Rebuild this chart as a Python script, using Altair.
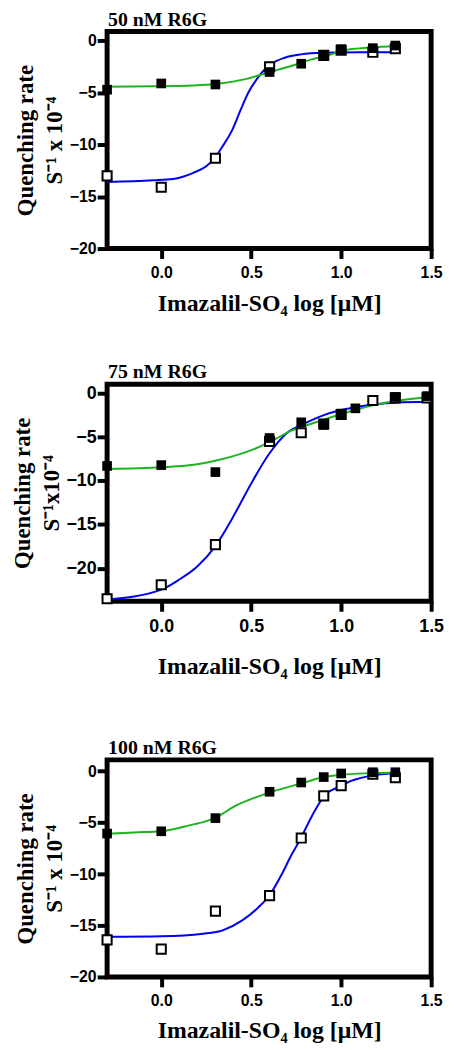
import altair as alt
import pandas as pd

# ---------------- data ----------------
# log10 concentration of Imazalil-SO4 (uM)
p1_x_filled = [-0.301, 0.0, 0.301, 0.602, 0.778, 0.903, 1.0, 1.176, 1.301]
p1_y_filled = [-4.7, -4.1, -4.2, -3.0, -2.2, -1.4, -0.8, -0.7, -0.45]
p1_x_open = [-0.301, 0.0, 0.301, 0.602, 0.903, 1.0, 1.176, 1.301]
p1_y_open = [-13.0, -14.1, -11.3, -2.5, -1.4, -0.9, -1.1, -0.75]
p1_x_green = [-0.301, -0.044, 0.177, 0.303, 0.467, 0.595, 0.725, 0.835, 0.945, 1.0, 1.176, 1.301]
p1_y_green = [-4.41, -4.38, -4.3, -4.16, -3.68, -3.05, -2.4, -1.78, -1.3, -0.95, -0.62, -0.51]
p1_x_blue = [-0.301, -0.044, 0.066, 0.175, 0.248, 0.297, 0.339, 0.394, 0.44, 0.485, 0.531,
             0.576, 0.613, 0.686, 0.777, 0.9, 1.1, 1.301]
p1_y_blue = [-13.6, -13.43, -13.3, -12.73, -12.1, -11.3, -10.2, -8.6, -6.7, -4.95, -3.68,
             -2.73, -2.19, -1.62, -1.3, -1.15, -1.1, -1.1]

p2_x_filled = [-0.301, 0.0, 0.301, 0.602, 0.778, 0.903, 1.0, 1.079, 1.301, 1.477]
p2_y_filled = [-8.3, -8.2, -9.0, -5.1, -3.3, -3.6, -2.3, -1.7, -0.4, -0.3]
p2_x_open = [-0.301, 0.0, 0.301, 0.602, 0.778, 0.903, 1.0, 1.176, 1.301, 1.477]
p2_y_open = [-23.5, -21.9, -17.3, -5.5, -4.5, -3.5, -2.4, -0.8, -0.5, -0.5]
p2_x_green = [-0.301, 0.0, 0.2, 0.3, 0.466, 0.6, 0.72, 0.865, 1.0, 1.1, 1.2, 1.3, 1.5]
p2_y_green = [-8.64, -8.45, -8.1, -7.7, -6.75, -5.6, -4.28, -3.26, -2.35, -1.75, -1.25, -0.85, -0.4]
p2_x_blue = [-0.301, 0.0, 0.1, 0.2, 0.3, 0.4, 0.5, 0.6, 0.7, 0.8, 0.9, 1.0, 1.1, 1.2, 1.3, 1.5]
p2_y_blue = [-23.6, -22.46, -21.3, -19.8, -17.5, -14.1, -10.3, -6.9, -4.5, -3.4, -2.5, -1.9, -1.5, -1.2, -1.05, -0.95]

p3_x_filled = [-0.301, 0.0, 0.301, 0.602, 0.778, 0.903, 1.0, 1.176, 1.301]
p3_y_filled = [-6.06, -5.84, -4.56, -2.0, -1.1, -0.57, -0.22, -0.1, -0.1]
p3_x_open = [-0.301, 0.0, 0.301, 0.602, 0.778, 0.903, 1.0, 1.176, 1.301]
p3_y_open = [-16.4, -17.3, -13.6, -12.1, -6.5, -2.4, -1.4, -0.3, -0.64]
p3_x_green = [-0.301, -0.15, 0.0, 0.178, 0.232, 0.299, 0.414, 0.602, 0.779, 0.903, 0.998, 1.15, 1.301]
p3_y_green = [-6.07, -5.95, -5.84, -5.17, -4.95, -4.53, -3.35, -2.08, -1.18, -0.57, -0.35, -0.2, -0.15]
p3_x_blue = [-0.301, 0.0, 0.232, 0.341, 0.45, 0.542, 0.602, 0.669, 0.724, 0.775, 0.834, 0.906,
             0.998, 1.052, 1.1, 1.2, 1.301]
p3_y_blue = [-16.1, -16.05, -15.8, -15.47, -14.5, -13.2, -12.06, -10.05, -8.13, -6.54, -4.47, -2.39,
             -1.44, -0.96, -0.7, -0.35, -0.2]

titles = ["50 nM R6G", "75 nM R6G", "100 nM R6G"]
y_titles = [["Quenching rate", "S\u207b\u00b9 x 10\u207b\u2074"],
            ["Quenching rate", "S\u207b\u00b9x10\u207b\u2074"],
            ["Quenching rate", "S\u207b\u00b9 x 10\u207b\u2074"]]
x_title = "Imazalil-SO\u2084 log [\u03bcM]"
x_ticks = [0.0, 0.5, 1.0, 1.5]
y_ticks = [0, -5, -10, -15, -20]

GREEN = "#1db41d"
BLUE = "#0000ee"
W, H = 327, 219


def df(xs, ys):
    return pd.DataFrame({"x": xs, "y": ys})


def panel(title, ytitle, ydom, label_size, xtitle_pad,
          xf, yf, xo, yo, xg, yg, xb, yb):
    xenc = alt.X("x:Q", scale=alt.Scale(domain=[-0.301, 1.5], nice=False, zero=False),
                 axis=alt.Axis(values=x_ticks, format=".1f", title=x_title, grid=False,
                               domain=False, tickSize=10, tickWidth=4, tickColor="black",
                               labelFont="Liberation Sans", labelFontWeight="bold",
                               labelFontSize=label_size, labelColor="black", labelPadding=6,
                               labelFlush=False, titleFont="Liberation Serif",
                               titleFontSize=24, titleFontWeight="bold", titleColor="black",
                               titlePadding=xtitle_pad))
    yenc = alt.Y("y:Q", scale=alt.Scale(domain=ydom, nice=False, zero=False),
                 axis=alt.Axis(values=y_ticks, format="d", title=ytitle, grid=False,
                               domain=False, tickSize=10, tickWidth=4, tickColor="black",
                               labelFont="Liberation Sans", labelFontWeight="bold",
                               labelFontSize=label_size, labelColor="black", labelPadding=1,
                               labelFlush=False, titleFont="Liberation Serif",
                               titleFontSize=23, titleFontWeight="bold", titleColor="black",
                               titlePadding=3, titleLineHeight=29))
    blue = alt.Chart(df(xb, yb)).mark_line(color=BLUE, strokeWidth=2, interpolate="monotone").encode(x=xenc, y=yenc)
    green = alt.Chart(df(xg, yg)).mark_line(color=GREEN, strokeWidth=2, interpolate="monotone").encode(x=xenc, y=yenc)
    opn = alt.Chart(df(xo, yo)).mark_square(size=85, fill="white", stroke="black",
                                             strokeWidth=2, opacity=1).encode(x=xenc, y=yenc)
    fil = alt.Chart(df(xf, yf)).mark_square(size=95, color="black", opacity=1).encode(x=xenc, y=yenc)
    return alt.layer(blue, green, opn, fil).properties(
        width=W, height=H,
        title=alt.TitleParams(title, anchor="start", frame="group", font="Liberation Serif",
                              fontSize=20, fontWeight="bold", color="black", offset=2, dx=1),
    )


def spacer(h):
    return alt.Chart(pd.DataFrame({"a": [0]})).mark_point(opacity=0).encode(
        x=alt.value(0), y=alt.value(0)
    ).properties(width=W, height=h, view=alt.ViewBackground(stroke="transparent", strokeWidth=0))


c1 = panel(titles[0], y_titles[0], [-20, 0.9], 16, 12,
           p1_x_filled, p1_y_filled, p1_x_open, p1_y_open,
           p1_x_green, p1_y_green, p1_x_blue, p1_y_blue)
c2 = panel(titles[1], y_titles[1], [-23.8, 1.05], 18, 20,
           p2_x_filled, p2_y_filled, p2_x_open, p2_y_open,
           p2_x_green, p2_y_green, p2_x_blue, p2_y_blue)
c3 = panel(titles[2], y_titles[2], [-20, 1.1], 16, 10,
           p3_x_filled, p3_y_filled, p3_x_open, p3_y_open,
           p3_x_green, p3_y_green, p3_x_blue, p3_y_blue)

chart = alt.vconcat(c1, spacer(137), c2, spacer(160), c3, spacing=0, bounds="flush").properties(
    padding={"left": 0, "top": -6, "right": 0, "bottom": 0},
    background="white",
).configure_view(stroke="black", strokeWidth=5)

chart.save("out.html", embed_options={"renderer": "svg", "actions": False})
